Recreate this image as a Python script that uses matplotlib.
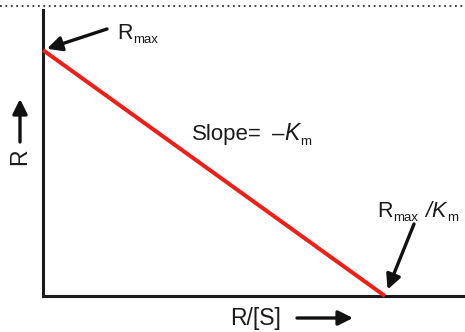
import matplotlib
matplotlib.use("Agg")
import matplotlib.pyplot as plt
from matplotlib.lines import Line2D
from matplotlib.patches import FancyArrowPatch

plt.rcParams['font.family'] = ['Liberation Sans', 'DejaVu Sans']

# Data (normalized Eadie-Hofstee style plot)
x_vals = [0.0, 1.0]      # R/[S] : 0 .. Rmax/Km
y_vals = [1.0, 0.0]      # R     : Rmax .. 0
x_label = "R/[S]"
y_label = "R"

W, H = 465, 332
fig = plt.figure(figsize=(W / 100, H / 100), dpi=100)
renderer = fig.canvas.get_renderer()

def fx(px):
    return px / W

def fy(py):
    return 1 - py / H

def pix(px, py):
    return (fx(px), fy(py))

ax = fig.add_axes([fx(43), fy(296), fx(465) - fx(43), fy(10) - fy(296)])
ax.plot(x_vals, y_vals, color='#e8221b', lw=2.9, solid_capstyle='butt', clip_on=False, zorder=3)
ax.set_xlim(0, 1.234)
ax.set_ylim(0, 1.163)
for s in ['top', 'right']:
    ax.spines[s].set_visible(False)
for s in ['left', 'bottom']:
    ax.spines[s].set_linewidth(2.2)
    ax.spines[s].set_color('#1a1a1a')
ax.set_xticks([])
ax.set_yticks([])

# dotted border at top
fig.add_artist(Line2D([0, 1], [fy(6), fy(6)], transform=fig.transFigure,
                      color='#333333', lw=1.3, linestyle=(0, (1, 2.0))))

def rich(x0, base, pieces):
    """pieces: (text, size, style, dy_px, gap_before_px)"""
    x = x0
    for txt, size, style, dy, gap in pieces:
        x += gap
        t = fig.text(fx(x), fy(base + dy), txt, fontsize=size, style=style,
                     ha='left', va='baseline', color='#1a1a1a')
        x += t.get_window_extent(renderer).width

MAIN = 15.5
SUB = 9.5

arrow = dict(arrowstyle='-|>', mutation_scale=22, lw=2.4, color='#111111',
             shrinkA=0, shrinkB=0)

# Rmax annotation
ax.annotate('', xy=(x_vals[0], y_vals[0]), xycoords='data',
            xytext=pix(107, 29), textcoords='figure fraction',
            arrowprops=dict(arrow, shrinkB=3))
rich(117, 39, [("R", MAIN, 'normal', 0, 0), ("max", SUB, 'normal', 4, 1)])

# slope label
rich(192, 140, [("Slope=", 16, 'normal', 0, 0), ("\u2013", 16, 'normal', 0, 10),
                ("K", 16.5, 'italic', 0, 0), ("m", SUB, 'normal', 5, 1)])

# Rmax/Km annotation
ax.annotate('', xy=(x_vals[1], y_vals[1]), xycoords='data',
            xytext=pix(414, 224), textcoords='figure fraction',
            arrowprops=dict(arrow, shrinkB=5))
rich(377, 217, [("R", MAIN, 'normal', 0, 0), ("max", SUB, 'normal', 4, 1),
                ("/", MAIN, 'italic', 0, 7), ("K", MAIN, 'italic', 0, 0),
                ("m", SUB, 'normal', 4, 1)])

# axis labels with arrows
fig.text(fx(20), fy(157), y_label, fontsize=16.5, rotation=90, ha='center', va='center',
         color='#1a1a1a')
fig.add_artist(FancyArrowPatch(pix(20, 142), pix(20, 99),
               transform=fig.transFigure, **arrow))
fig.text(fx(256), fy(318), x_label, fontsize=16.5, ha='center', va='center',
         color='#1a1a1a')
fig.add_artist(FancyArrowPatch(pix(297, 318), pix(353, 318),
               transform=fig.transFigure, **arrow))

fig.savefig('out.png', dpi=100)
